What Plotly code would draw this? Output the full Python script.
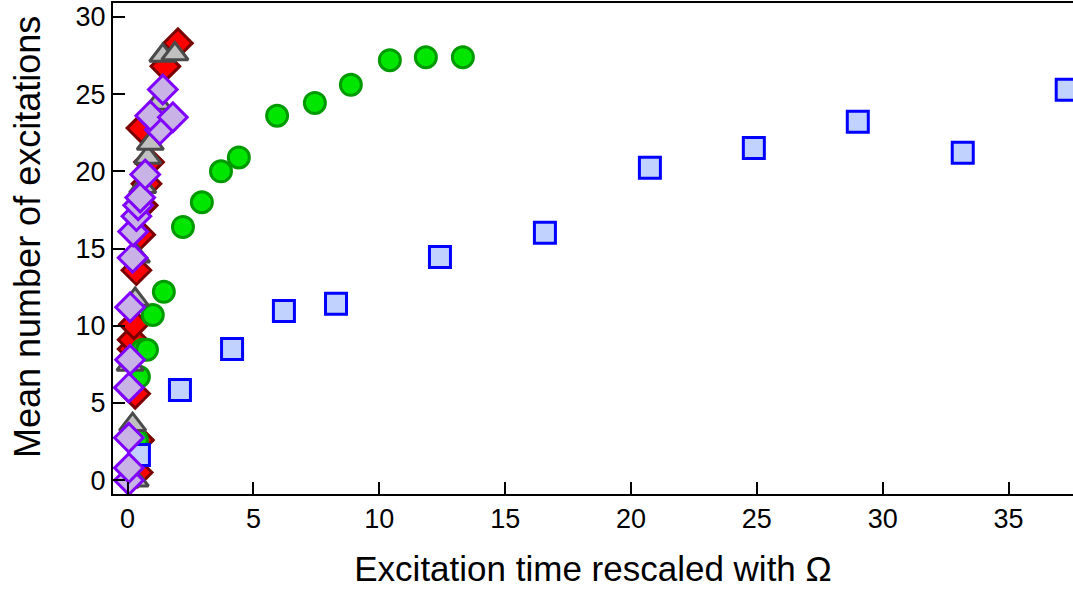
import plotly.graph_objects as go

# Blue squares
blue_x = [0.45, 2.08, 4.15, 6.21, 8.28, 12.41, 16.58, 20.75, 24.88, 29.01, 33.18, 37.31]
blue_y = [1.64, 5.85, 8.5, 10.96, 11.42, 14.46, 16.02, 20.23, 21.52, 23.21, 21.2, 25.28]

# Green circles
green_x = [0.37, 0.45, 0.6, 0.77, 1.0, 1.44, 2.2, 2.95, 3.71, 4.42, 5.94, 7.44, 8.87, 10.42, 11.85, 13.32]
green_y = [2.6, 6.7, 8.45, 8.45, 10.7, 12.2, 16.4, 18.0, 20.0, 20.9, 23.6, 24.43, 25.6, 27.2, 27.39, 27.39]

# Red diamonds
red_x = [0.4, 0.45, 0.3, 0.2, 0.2, 0.25, 0.35, 0.5, 0.6, 0.75, 0.85, 0.55, 1.5, 2.0]
red_y = [0.5, 2.6, 5.6, 8.5, 9.1, 10.1, 13.6, 15.9, 17.8, 19.2, 20.6, 22.8, 26.8, 28.3]

# Gray triangles
gray_x = [0.3, 0.2, 0.1, 0.3, 0.35, 0.6, 0.8, 0.9, 1.2, 1.4, 1.88]
gray_y = [0.0, 3.6, 7.5, 11.7, 14.5, 19.0, 20.9, 21.8, 24.4, 27.5, 27.6]

# Purple diamonds
purple_x = [0.05, 0.05, 0.05, 0.05, 0.1, 0.1, 0.2, 0.22, 0.35, 0.42, 0.5, 0.7, 1.28, 0.9, 1.8, 1.4]
purple_y = [0.0, 0.8, 2.75, 6.0, 7.8, 11.2, 14.4, 16.1, 17.1, 17.8, 18.3, 19.8, 22.7, 23.6, 23.5, 25.3]

x_ticks = [0, 5, 10, 15, 20, 25, 30, 35]
y_ticks = [0, 5, 10, 15, 20, 25, 30]

fig = go.Figure()
fig.add_trace(go.Scatter(x=red_x, y=red_y, mode="markers",
    marker=dict(symbol="diamond", size=22, color="#ff0000", line=dict(color="#7a0000", width=3))))
fig.add_trace(go.Scatter(x=green_x, y=green_y, mode="markers",
    marker=dict(symbol="circle", size=21, color="#00e600", line=dict(color="#009a00", width=3))))
fig.add_trace(go.Scatter(x=blue_x, y=blue_y, mode="markers",
    marker=dict(symbol="square", size=21, color="#c2d2ff", line=dict(color="#0000ff", width=3))))
fig.add_trace(go.Scatter(x=gray_x, y=gray_y, mode="markers",
    marker=dict(symbol="triangle-up", size=23, color="#c0c0c0", line=dict(color="#4a4a4a", width=3))))
fig.add_trace(go.Scatter(x=purple_x, y=purple_y, mode="markers",
    marker=dict(symbol="diamond", size=22, color="#c8b2e6", line=dict(color="#7f00ff", width=3))))

font_family = "Liberation Sans, Arial, sans-serif"
fig.update_layout(
    width=1073, height=590,
    margin=dict(l=113, r=0, t=3, b=96),
    paper_bgcolor="white", plot_bgcolor="white",
    showlegend=False,
    font=dict(family=font_family, size=27, color="black"),
    xaxis=dict(range=[-0.58, 37.56], tickvals=x_ticks, ticks="inside", ticklen=12, tickwidth=1.5,
               tickcolor="black", showline=True, linecolor="black", linewidth=2, mirror=True,
               showgrid=False, zeroline=False, tickfont=dict(size=27),
               title=dict(text="Excitation time rescaled with Ω", font=dict(size=35), standoff=23)),
    yaxis=dict(range=[-0.89, 30.9], tickvals=y_ticks, ticks="inside", ticklen=12, tickwidth=1.5,
               tickcolor="black", showline=True, linecolor="black", linewidth=2,
               showgrid=False, zeroline=False, tickfont=dict(size=27)),
    annotations=[dict(text="Mean number of excitations", textangle=-90, showarrow=False,
                      xref="paper", yref="paper", x=-0.0896, y=0.5234,
                      xanchor="center", yanchor="middle", font=dict(size=36))],
)
fig.write_html("out.html")
